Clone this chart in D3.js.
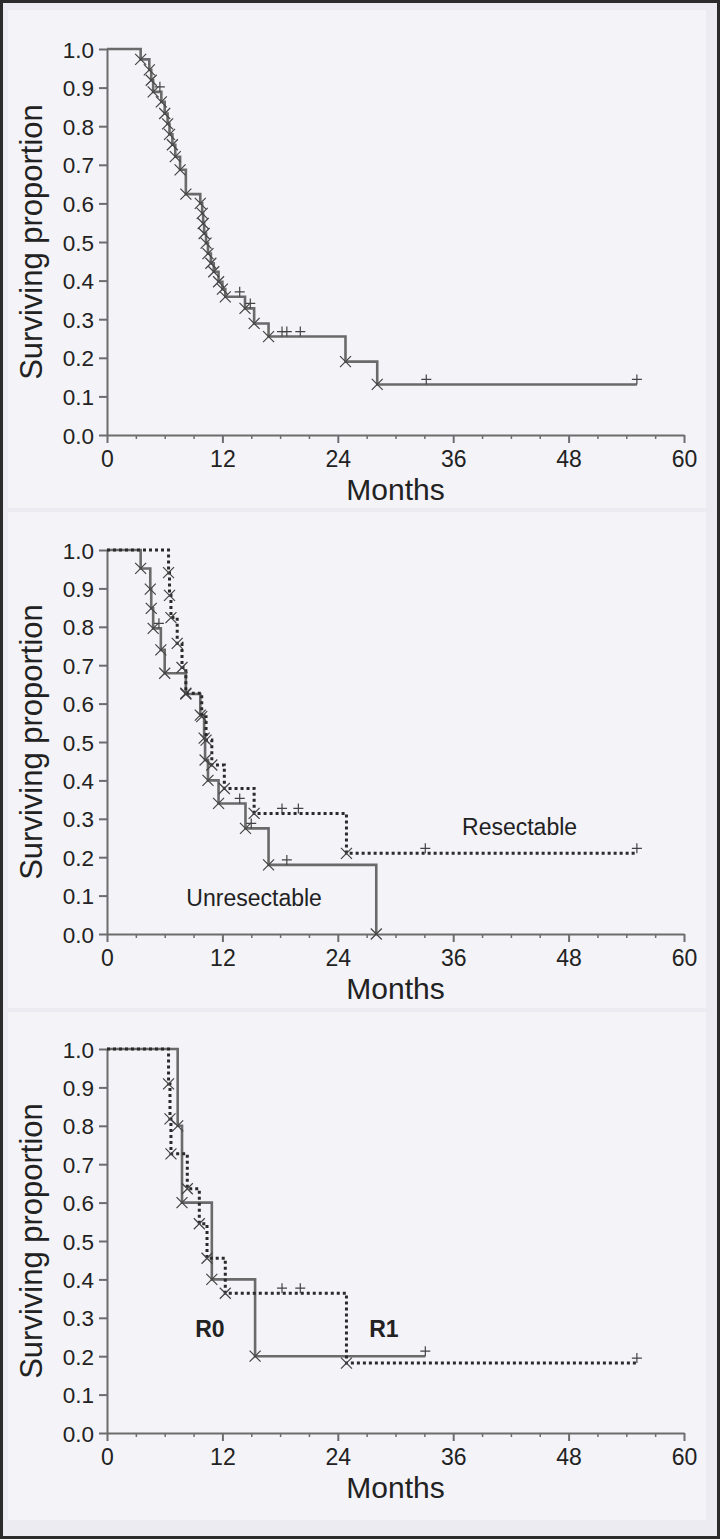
<!DOCTYPE html>
<html><head><meta charset="utf-8">
<script src="https://cdn.jsdelivr.net/npm/d3@7"></script>
<style>html,body{margin:0;padding:0;background:#ebebf1;} svg{display:block}</style>
</head><body>
<svg id="c" width="720" height="1539"></svg>
<script>
// ---------- data ----------
const monthTicks = [0, 12, 24, 36, 48, 60];
const minorMonthTicks = [3, 6, 9, 15, 18, 21, 27, 30, 33, 39, 42, 45, 51, 54, 57];
const survTicks = [0.0, 0.1, 0.2, 0.3, 0.4, 0.5, 0.6, 0.7, 0.8, 0.9, 1.0];

// Panel 1: all patients
const allDeathTimes = [3.5, 4.4, 4.6, 4.8, 5.65, 6.0, 6.3, 6.5, 6.8, 7.1, 7.6, 8.2, 9.7, 9.9, 10.0, 10.1, 10.3, 10.5, 10.8, 11.1, 11.6, 12.0, 12.3, 14.35, 15.3, 16.8, 24.8, 28.1];
const allDeathSurv  = [0.973, 0.946, 0.919, 0.889, 0.863, 0.833, 0.806, 0.779, 0.752, 0.721, 0.687, 0.624, 0.600, 0.574, 0.548, 0.522, 0.497, 0.470, 0.445, 0.423, 0.397, 0.378, 0.358, 0.328, 0.289, 0.255, 0.190, 0.131];
const allCensorTimes = [5.5, 13.8, 14.9, 18.2, 18.7, 20.1, 33.2, 55.1];

// Panel 2: Unresectable (solid) vs Resectable (dotted)
const unresDeathTimes = [3.5, 4.5, 4.6, 4.8, 5.6, 6.0, 8.2, 9.7, 10.1, 10.2, 10.5, 11.6, 14.4, 16.8, 28.0];
const unresDeathSurv  = [0.952, 0.898, 0.848, 0.796, 0.740, 0.679, 0.625, 0.570, 0.510, 0.453, 0.400, 0.340, 0.275, 0.180, 0.0];
const unresCensorTimes = [5.4, 13.8, 15.0, 18.7];
const resDeathTimes = [6.4, 6.5, 6.65, 7.3, 7.8, 8.2, 9.85, 10.3, 10.9, 12.2, 15.3, 24.9];
const resDeathSurv  = [0.941, 0.882, 0.824, 0.757, 0.694, 0.627, 0.566, 0.505, 0.440, 0.379, 0.314, 0.210];
const resCensorTimes = [18.2, 19.9, 33.1, 55.1];

// Panel 3: R0 (solid) vs R1 (dotted)
const r0DeathTimes = [7.35, 7.8, 10.9, 15.4];
const r0DeathSurv  = [0.8, 0.6, 0.4, 0.2];
const r0CensorTimes = [33.1];
const r1DeathTimes = [6.4, 6.55, 6.65, 8.35, 9.6, 10.4, 12.3, 24.9];
const r1DeathSurv  = [0.909, 0.818, 0.727, 0.636, 0.545, 0.455, 0.364, 0.182];
const r1CensorTimes = [18.2, 20.1, 55.1];

const curveLabels2 = ["Unresectable", "Resectable"];
const curveLabels3 = ["R0", "R1"];

// ---------- layout ----------
const W = 720, H = 1539;
const svg = d3.select("#c");
const FONT = "'Liberation Sans', Arial, Helvetica, sans-serif";

svg.append("rect").attr("x", 0).attr("y", 0).attr("width", W).attr("height", H).attr("fill", "#ebebf1");
svg.append("rect").attr("x", 1.5).attr("y", 1.5).attr("width", W - 3).attr("height", H - 3)
  .attr("fill", "none").attr("stroke", "#2b2b2b").attr("stroke-width", 3);

const panelBoxes = [[8, 10, 698, 498], [8, 512, 698, 496], [8, 1012, 698, 508]];
panelBoxes.forEach(b => svg.append("rect").attr("x", b[0]).attr("y", b[1]).attr("width", b[2]).attr("height", b[3]).attr("fill", "#f3f3f8"));

const panels = [
  { top: 49, bottom: 435,
    curves: [{ t: allDeathTimes, s: allDeathSurv, c: allCensorTimes, dotted: false }],
    labels: [] },
  { top: 550, bottom: 934,
    curves: [{ t: unresDeathTimes, s: unresDeathSurv, c: unresCensorTimes, dotted: false },
             { t: resDeathTimes, s: resDeathSurv, c: resCensorTimes, dotted: true }],
    labels: [{ text: curveLabels2[0], m: 15.3, v: 0.073, bold: false },
             { text: curveLabels2[1], m: 42.9, v: 0.258, bold: false }] },
  { top: 1049, bottom: 1433,
    curves: [{ t: r0DeathTimes, s: r0DeathSurv, c: r0CensorTimes, dotted: false },
             { t: r1DeathTimes, s: r1DeathSurv, c: r1CensorTimes, dotted: true }],
    labels: [{ text: curveLabels3[0], m: 10.7, v: 0.25, bold: true },
             { text: curveLabels3[1], m: 28.8, v: 0.25, bold: true }] }
];

const x = d3.scaleLinear().domain([0, 60]).range([107, 684]);

function survAt(curve, time) {
  let v = 1;
  curve.t.forEach((tt, i) => { if (tt <= time) v = curve.s[i]; });
  return v;
}

panels.forEach(p => {
  const y = d3.scaleLinear().domain([0, 1]).range([p.bottom, p.top]);
  const g = svg.append("g");

  // axes
  const xAxis = g.append("g").attr("transform", `translate(0,${p.bottom})`)
    .call(d3.axisBottom(x).tickValues(monthTicks).tickSize(8).tickSizeOuter(0).tickPadding(3).tickFormat(d3.format("d")));
  const xMinor = g.append("g").attr("transform", `translate(0,${p.bottom})`)
    .call(d3.axisBottom(x).tickValues(minorMonthTicks).tickSize(4).tickSizeOuter(0).tickFormat(""));
  xMinor.select(".domain").remove();
  const yAxis = g.append("g").attr("transform", `translate(${x(0)},0)`)
    .call(d3.axisLeft(y).tickValues(survTicks).tickSize(8).tickSizeOuter(0).tickPadding(5).tickFormat(d3.format(".1f")));
  [xAxis, xMinor, yAxis].forEach(a => {
    a.selectAll("path,line").attr("stroke", "#6d6d6d").attr("stroke-width", 2);
    a.selectAll("text").attr("fill", "#222").style("font-family", FONT).style("font-size", "22.5px");
  });
  xMinor.selectAll("line").attr("stroke-width", 1.5);
  xAxis.selectAll("text").attr("dy", "0.93em").style("font-size", "23px");
  yAxis.selectAll("text").attr("dy", "0.36em");

  g.append("text").attr("x", (x(0) + x(60)) / 2).attr("y", p.bottom + 65).attr("text-anchor", "middle")
    .style("font-family", FONT).style("font-size", "30px").attr("fill", "#222").text("Months");
  g.append("text").attr("transform", `translate(42,${(p.top + p.bottom) / 2}) rotate(-90)`).attr("text-anchor", "middle")
    .style("font-family", FONT).style("font-size", "31px").attr("fill", "#222").text("Surviving proportion");

  // curves
  p.curves.forEach(cv => {
    const pts = [[0, 1]];
    let prev = 1;
    cv.t.forEach((tt, i) => { pts.push([tt, prev]); pts.push([tt, cv.s[i]]); prev = cv.s[i]; });
    const tEnd = Math.max(d3.max(cv.t), d3.max(cv.c));
    pts.push([tEnd, prev]);
    const line = d3.line().x(d => x(d[0])).y(d => y(d[1]));
    g.append("path").attr("d", line(pts)).attr("fill", "none")
      .attr("stroke", cv.dotted ? "#2a2a2a" : "#6a6a6a")
      .attr("stroke-width", cv.dotted ? 3 : 2.6)
      .attr("stroke-dasharray", cv.dotted ? "3,3" : null);

    // death markers (x)
    cv.t.forEach((tt, i) => {
      const cx = x(tt), cy = y(cv.s[i]);
      g.append("path").attr("d", `M${cx - 5.5},${cy - 5.5}L${cx + 5.5},${cy + 5.5}M${cx - 5.5},${cy + 5.5}L${cx + 5.5},${cy - 5.5}`)
        .attr("stroke", "#444").attr("stroke-width", 1.2).attr("fill", "none");
    });
    // censor markers (+)
    cv.c.forEach(tt => {
      const cx = x(tt), cy = y(survAt(cv, tt)) - 5;
      g.append("path").attr("d", `M${cx - 5},${cy}L${cx + 5},${cy}M${cx},${cy - 5}L${cx},${cy + 5}`)
        .attr("stroke", "#444").attr("stroke-width", 1.2).attr("fill", "none");
    });
  });

  p.labels.forEach(l => {
    g.append("text").attr("x", x(l.m)).attr("y", y(l.v)).attr("text-anchor", "middle")
      .style("font-family", FONT).style("font-size", "23px").style("font-weight", l.bold ? "bold" : "normal")
      .attr("fill", "#222").text(l.text);
  });
});
</script>
</body></html>
